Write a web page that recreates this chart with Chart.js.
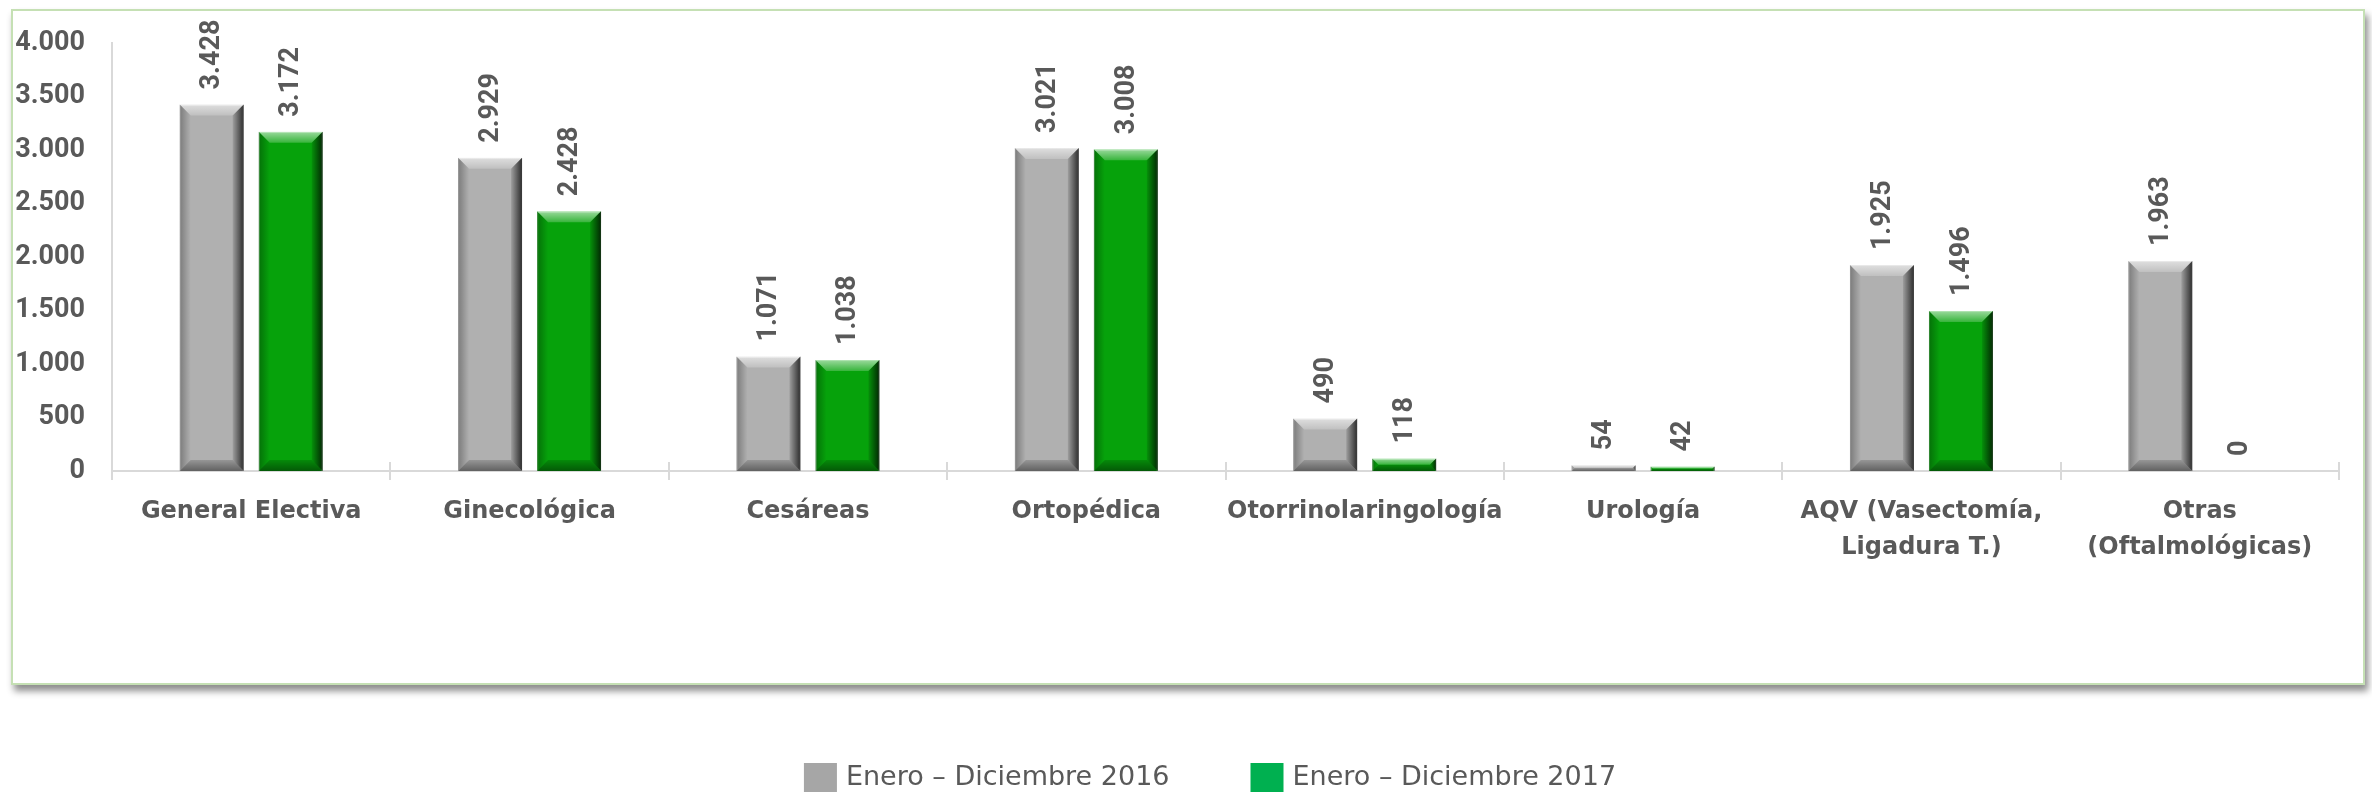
<!DOCTYPE html>
<html>
<head>
<meta charset="utf-8">
<script src="https://cdn.jsdelivr.net/npm/chart.js@4.4.1/dist/chart.umd.min.js"></script>
<style>
  html, body { margin: 0; padding: 0; background: #ffffff; }
  #wrap { position: relative; width: 2372px; height: 793px; }
  #frame {
    position: absolute; left: 11px; top: 9px; width: 2350px; height: 672px;
    border: 2px solid #c5e0b4; background: #ffffff;
    box-shadow: 3px 6px 7px rgba(0,0,0,0.45);
  }
  #cirugias { position: absolute; left: 0; top: 0; }
</style>
</head>
<body>
<div id="wrap">
  <div id="frame"></div>
  <canvas id="cirugias" width="2372" height="793"></canvas>
</div>
<script>
const categorias = [
    "General Electiva",
    "Ginecológica",
    "Cesáreas",
    "Ortopédica",
    "Otorrinolaringología",
    "Urología",
    ["AQV (Vasectomía,", "Ligadura T.)"],
    ["Otras", "(Oftalmológicas)"]
];
const valores2016 = [3428, 2929, 1071, 3021, 490, 54, 1925, 1963];
const valores2017 = [3172, 2428, 1038, 3008, 118, 42, 1496, 0];
const series = ["Enero – Diciembre 2016", "Enero – Diciembre 2017"];
const yTicks = [0, 500, 1000, 1500, 2000, 2500, 3000, 3500, 4000];

const TEXT = '#595959';
const NUM_FONT = 'bold 27px Roboto';

function miles(n) {
    return String(n).replace(/\B(?=(\d{3})+(?!\d))/g, '.');
}

// Excel-like bevel on every bar, drawn over the bar elements from the library
const bevel = {
    id: 'bevel',
    afterDatasetsDraw(chart) {
        const ctx = chart.ctx;
        chart.data.datasets.forEach((ds, di) => {
            chart.getDatasetMeta(di).data.forEach(bar => {
                const {x, y, base, width} = bar.getProps(['x', 'y', 'base', 'width'], true);
                const h = base - y;
                if (h <= 0) return;
                const l = x - width / 2, r = x + width / 2;
                const bv = Math.min(11, h / 2, width / 2);
                ctx.save();
                // top light bevel
                let g = ctx.createLinearGradient(0, y, 0, y + bv);
                g.addColorStop(0, 'rgba(255,255,255,0.6)');
                g.addColorStop(1, 'rgba(255,255,255,0.2)');
                ctx.fillStyle = g;
                ctx.beginPath();
                ctx.moveTo(l, y); ctx.lineTo(r, y); ctx.lineTo(r - bv, y + bv); ctx.lineTo(l + bv, y + bv);
                ctx.closePath(); ctx.fill();
                // bottom dark bevel
                g = ctx.createLinearGradient(0, base - bv, 0, base);
                g.addColorStop(0, 'rgba(0,0,0,0.15)');
                g.addColorStop(1, 'rgba(0,0,0,0.45)');
                ctx.fillStyle = g;
                ctx.beginPath();
                ctx.moveTo(l, base); ctx.lineTo(r, base); ctx.lineTo(r - bv, base - bv); ctx.lineTo(l + bv, base - bv);
                ctx.closePath(); ctx.fill();
                // left bevel
                g = ctx.createLinearGradient(l, 0, l + bv, 0);
                g.addColorStop(0, 'rgba(0,0,0,0.3)');
                g.addColorStop(1, 'rgba(0,0,0,0.0)');
                ctx.fillStyle = g;
                ctx.beginPath();
                ctx.moveTo(l, y); ctx.lineTo(l + bv, y + bv); ctx.lineTo(l + bv, base - bv); ctx.lineTo(l, base);
                ctx.closePath(); ctx.fill();
                // right bevel
                g = ctx.createLinearGradient(r - bv, 0, r, 0);
                g.addColorStop(0, 'rgba(0,0,0,0.1)');
                g.addColorStop(1, 'rgba(0,0,0,0.75)');
                ctx.fillStyle = g;
                ctx.beginPath();
                ctx.moveTo(r, y); ctx.lineTo(r - bv, y + bv); ctx.lineTo(r - bv, base - bv); ctx.lineTo(r, base);
                ctx.closePath(); ctx.fill();
                ctx.restore();
            });
        });
    }
};

// rotated value labels above the bars
const etiquetas = {
    id: 'etiquetas',
    afterDatasetsDraw(chart) {
        const ctx = chart.ctx;
        ctx.save();
        ctx.font = NUM_FONT;
        ctx.fillStyle = TEXT;
        ctx.textAlign = 'left';
        ctx.textBaseline = 'middle';
        chart.data.datasets.forEach((ds, di) => {
            chart.getDatasetMeta(di).data.forEach((bar, i) => {
                const {x, y} = bar.getProps(['x', 'y'], true);
                ctx.save();
                ctx.translate(x + 1, y - 15);
                ctx.rotate(-Math.PI / 2);
                ctx.fillText(miles(ds.data[i]), 0, 0);
                ctx.restore();
            });
        });
        ctx.restore();
    }
};

// cross tick marks above the axis at category borders
const cruces = {
    id: 'cruces',
    afterDraw(chart) {
        const xs = chart.scales.x;
        const ctx = chart.ctx;
        const step = xs.width / categorias.length;
        ctx.save();
        ctx.strokeStyle = '#d9d9d9';
        ctx.lineWidth = 2;
        for (let i = 0; i <= categorias.length; i++) {
            const px = Math.round(xs.left + i * step);
            ctx.beginPath();
            ctx.moveTo(px, xs.top - 9);
            ctx.lineTo(px, xs.top);
            ctx.stroke();
        }
        ctx.restore();
    }
};

// legend at the bottom
const leyenda = {
    id: 'leyenda',
    afterDraw(chart) {
        const ctx = chart.ctx;
        ctx.save();
        ctx.font = '27px "DejaVu Sans"';
        ctx.textBaseline = 'middle';
        const box = 33, gap = 9, between = 81;
        const widths = chart.data.datasets.map(d => ctx.measureText(d.label).width);
        const total = widths.reduce((a, w) => a + box + gap + w, 0) + between;
        let px = 1210 - total / 2;
        const cy = 777;
        chart.data.datasets.forEach((d, i) => {
            ctx.fillStyle = d.legendColor;
            ctx.fillRect(px, cy - 14, box, 29);
            ctx.fillStyle = TEXT;
            ctx.fillText(d.label, px + box + gap, cy + 1);
            px += box + gap + widths[i] + between;
        });
        ctx.restore();
    }
};

const ctx = document.getElementById('cirugias').getContext('2d');

new Chart(ctx, {
    type: 'bar',
    data: {
        labels: categorias,
        datasets: [{
            label: series[0],
            data: valores2016,
            backgroundColor: '#b0b0b0',
            borderColor: '#c8c8c8',
            borderWidth: 1,
            legendColor: '#a6a6a6',
            categoryPercentage: 0.5675,
            barPercentage: 0.81
        }, {
            label: series[1],
            data: valores2017,
            backgroundColor: '#06a20b',
            borderColor: '#3dbb40',
            borderWidth: 1,
            legendColor: '#00b050',
            categoryPercentage: 0.5675,
            barPercentage: 0.81
        }]
    },
    options: {
        responsive: false,
        devicePixelRatio: 1,
        animation: false,
        layout: { padding: { left: 0, top: 43, right: 33, bottom: 222 } },
        plugins: {
            legend: { display: false },
            tooltip: { enabled: false }
        },
        scales: {
            x: {
                grid: {
                    offset: true,
                    drawOnChartArea: false,
                    drawTicks: true,
                    tickLength: 9,
                    color: '#d9d9d9',
                    lineWidth: 2
                },
                border: { display: true, color: '#d9d9d9', width: 2 },
                ticks: {
                    color: TEXT,
                    font: { family: 'DejaVu Sans', weight: 'bold', size: 24, lineHeight: 1.5 },
                    padding: 14,
                    maxRotation: 0,
                    autoSkip: false
                },
                afterFit(scale) { scale.height = 100; }
            },
            y: {
                min: 0,
                max: 4000,
                afterBuildTicks(scale) { scale.ticks = yTicks.map(v => ({value: v})); },
                grid: { display: false, drawTicks: false },
                border: { display: true, color: '#d9d9d9', width: 2 },
                ticks: {
                    color: TEXT,
                    font: { family: 'Roboto', weight: 'bold', size: 27 },
                    padding: 27,
                    callback: v => miles(v)
                },
                afterFit(scale) { scale.width = 112; }
            }
        }
    },
    plugins: [bevel, etiquetas, cruces, leyenda]
});
</script>
</body>
</html>
